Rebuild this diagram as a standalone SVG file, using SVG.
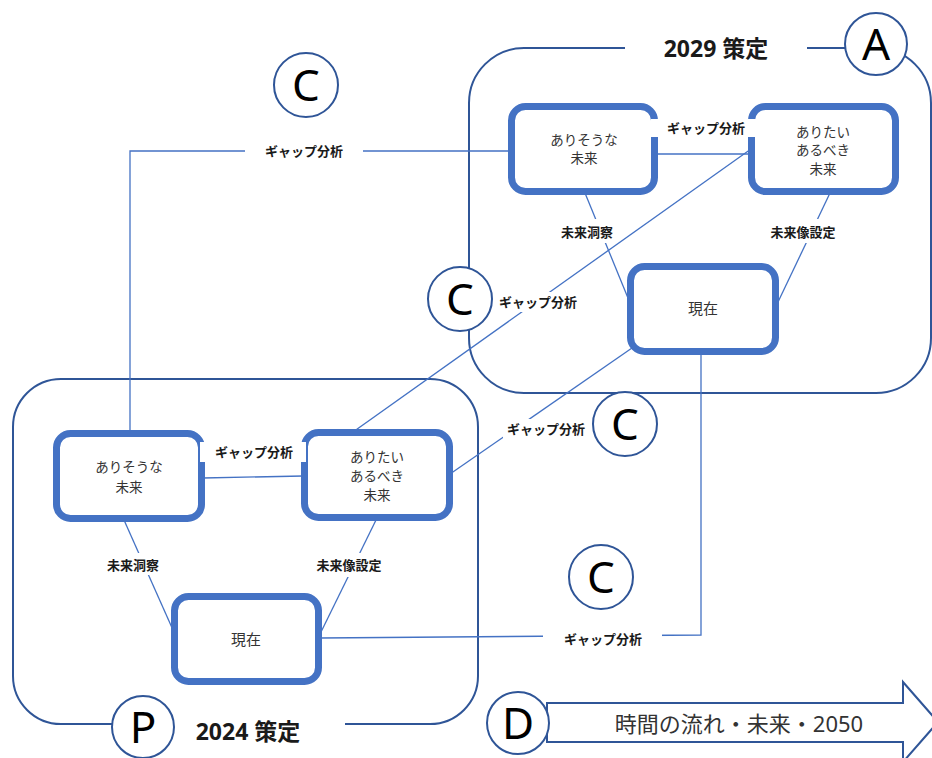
<svg xmlns="http://www.w3.org/2000/svg" width="932" height="758" viewBox="0 0 932 758">
<style>
.cont{fill:none;stroke:#2F5597;stroke-width:2}
.con{fill:none;stroke:#4472C4;stroke-width:1.3}
.box{fill:#fff;stroke:#4472C4;stroke-width:7}
.bt{font-family:"Noto Sans","Noto Sans CJK JP",sans-serif;font-size:13.5px;fill:#333;text-anchor:middle}
.nt{font-family:"Noto Sans","Noto Sans CJK JP",sans-serif;font-size:15px;fill:#333;text-anchor:middle}
.lbg{fill:#fff}
.lt{font-family:"Noto Sans","Noto Sans CJK JP",sans-serif;font-size:13px;font-weight:bold;fill:#1a1a1a;text-anchor:middle}
.circ{fill:#fff;stroke:#2F5597;stroke-width:2}
.ct{font-family:"Noto Sans",sans-serif;font-size:44px;fill:#000;text-anchor:middle}
.tt{font-family:"Noto Sans","Noto Sans CJK JP",sans-serif;font-size:23px;font-weight:bold;fill:#1a1a1a;text-anchor:middle}
</style>
<rect width="932" height="758" fill="#fff"/>
<g id="container-A">
<path class="cont" d="M625 48 H524 A55 55 0 0 0 469 103 V338 A55 55 0 0 0 524 393 H876 A55 55 0 0 0 931 338 V103 A55 55 0 0 0 876 48 H807"/>
<text class="tt" x="716" y="57">2029 策定</text>
</g>
<g id="container-P">
<path class="cont" d="M345 724 H430 A48 48 0 0 0 478 676 V427 A48 48 0 0 0 430 379 H61 A48 48 0 0 0 13 427 V676 A48 48 0 0 0 61 724 H112"/>
<text class="tt" x="248" y="740">2024 策定</text>
</g>
<g id="connectors">
<path class="con" d="M652 154 L755 154"/>
<path class="con" d="M508 151 H130 V432"/>
<path class="con" d="M751 149 L353 432"/>
<path class="con" d="M585 193 L628 298"/>
<path class="con" d="M830 193 L778 302"/>
<path class="con" d="M701 353 V635 L320 638"/>
<path class="con" d="M632 348 L450 474"/>
<path class="con" d="M203 478 L303 476"/>
<path class="con" d="M124 520 L173 630"/>
<path class="con" d="M377 518 L321 632"/>
</g>
<g id="A-likely">
<rect class="box" x="511.5" y="106.5" width="143" height="85" rx="14"/>
<text class="bt" x="584" y="145">ありそうな</text>
<text class="bt" x="584" y="163">未来</text>
</g>
<g id="A-desired">
<rect class="box" x="751.5" y="106.5" width="144" height="85" rx="14"/>
<text class="bt" x="823" y="137">ありたい</text>
<text class="bt" x="823" y="155">あるべき</text>
<text class="bt" x="823" y="174">未来</text>
</g>
<g id="A-now">
<rect class="box" x="630.5" y="266.5" width="145" height="85" rx="14"/>
<text class="nt" x="703" y="314">現在</text>
</g>
<g id="P-likely">
<rect class="box" x="56.5" y="433.5" width="145" height="85" rx="14"/>
<text class="bt" x="129" y="472">ありそうな</text>
<text class="bt" x="129" y="492">未来</text>
</g>
<g id="P-desired">
<rect class="box" x="304.5" y="432.5" width="145" height="85" rx="14"/>
<text class="bt" x="377" y="462">ありたい</text>
<text class="bt" x="377" y="481">あるべき</text>
<text class="bt" x="377" y="500">未来</text>
</g>
<g id="P-now">
<rect class="box" x="174.5" y="596.5" width="144" height="85" rx="14"/>
<text class="nt" x="246" y="645">現在</text>
</g>
<g id="labels">
<rect class="lbg" x="245" y="141" width="118" height="20"/><text class="lt" x="304" y="156">ギャップ分析</text>
<rect class="lbg" x="651" y="119" width="106" height="18"/><text class="lt" x="706" y="133">ギャップ分析</text>
<rect class="lbg" x="496" y="292" width="85" height="20"/><text class="lt" x="538" y="307">ギャップ分析</text>
<rect class="lbg" x="503" y="419" width="86" height="20"/><text class="lt" x="546" y="434">ギャップ分析</text>
<rect class="lbg" x="543" y="629" width="119" height="20"/><text class="lt" x="603" y="644">ギャップ分析</text>
<rect class="lbg" x="200" y="442" width="106" height="20"/><text class="lt" x="254" y="457">ギャップ分析</text>
<rect class="lbg" x="557" y="219" width="60" height="24"/><text class="lt" x="587" y="237">未来洞察</text>
<rect class="lbg" x="765" y="219" width="76" height="24"/><text class="lt" x="803" y="237">未来像設定</text>
<rect class="lbg" x="103" y="553" width="60" height="22"/><text class="lt" x="133" y="570">未来洞察</text>
<rect class="lbg" x="312" y="553" width="74" height="24"/><text class="lt" x="349" y="570">未来像設定</text>
</g>
<g id="arrow-D">
<polygon points="547,703 903,703 903,682 938,722 903,762 903,742 547,742" fill="#fff" stroke="#2F5597" stroke-width="2"/>
<text x="739" y="732" font-family="'Noto Sans','Noto Sans CJK JP',sans-serif" font-size="22" fill="#333" text-anchor="middle">時間の流れ・未来・2050</text>
</g>
<g id="circle-A"><circle class="circ" cx="876" cy="44" r="31"/><text class="ct" x="876" y="60">A</text></g>
<g id="circle-P"><circle class="circ" cx="143" cy="727" r="31"/><text class="ct" x="143" y="743">P</text></g>
<g id="circle-D"><circle class="circ" cx="518" cy="723" r="31"/><text class="ct" x="518" y="739">D</text></g>
<g id="circle-C1"><circle class="circ" cx="306" cy="85" r="32"/><text class="ct" x="306" y="101">C</text></g>
<g id="circle-C2"><circle class="circ" cx="460" cy="299" r="32"/><text class="ct" x="460" y="315">C</text></g>
<g id="circle-C3"><circle class="circ" cx="625" cy="424" r="32"/><text class="ct" x="625" y="440">C</text></g>
<g id="circle-C4"><circle class="circ" cx="601" cy="577" r="32"/><text class="ct" x="601" y="593">C</text></g>
</svg>
